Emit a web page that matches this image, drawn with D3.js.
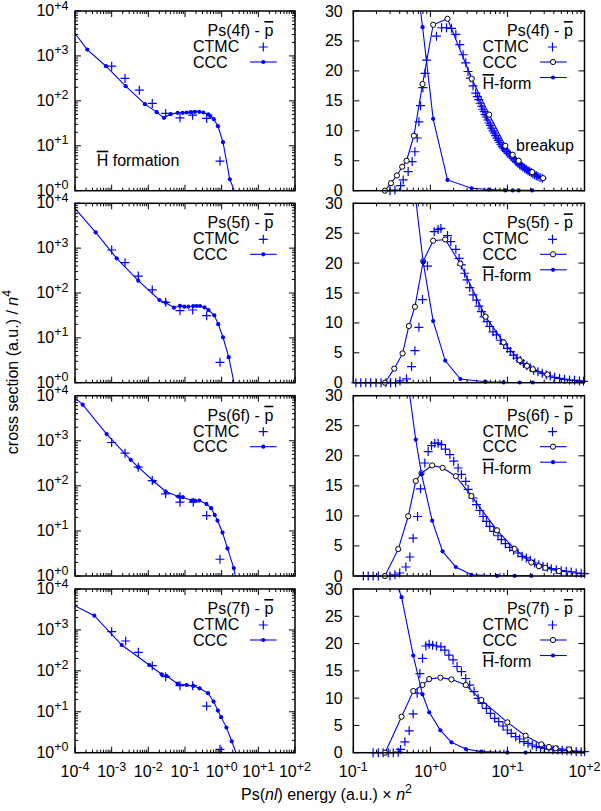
<!DOCTYPE html>
<html><head><meta charset="utf-8">
<script src="https://cdn.jsdelivr.net/npm/d3@7"></script>
<style>
body{margin:0;background:#fff}
svg{display:block}
text{font-family:"Liberation Sans",Arial,Helvetica,sans-serif;fill:#000}
</style>
</head><body>
<svg id="c" width="601" height="811"></svg>
<script>
// ---------------- DATA ----------------
const states = ["4f", "5f", "6f", "7f"];

// CCC H-bar formation (left panels, also "H-form" in right panels)
const hbar4fX = [5e-5, 2.16e-4, 7.0e-4, 2.41e-3, 8.1e-3, 0.0169, 0.0267, 0.0407, 0.063, 0.0865, 0.111, 0.143, 0.187, 0.245, 0.316, 0.431, 0.491, 0.611, 0.792, 1.087, 1.667, 3.44, 5.8, 9.4, 11.7, 14.0, 21.0];
const hbar4fY = [6640, 1387, 590, 212, 84.5, 56, 41.9, 50.6, 54, 54, 55, 56, 57, 57, 55, 50, 46, 39, 27.3, 12.0, 1.8, 0.4, 0.2, 0.05, 0.05, 0.05, 0.05];
const hbar5fX = [5e-5, 3.66e-4, 1.37e-3, 5.32e-3, 0.02, 0.0297, 0.05, 0.073, 0.0955, 0.123, 0.168, 0.207, 0.256, 0.34, 0.436, 0.63, 0.806, 1.087, 1.557, 2.45, 5.2, 8.93, 14.4, 21.4];
const hbar5fY = [14900, 2256, 593, 188, 69.8, 60.8, 47, 52, 49.5, 49.5, 51.3, 51.3, 51.3, 48, 41.8, 31.8, 20.2, 10.3, 3.7, 0.62, 0.17, 0.05, 0.03, 0.03];
const hbar6fX = [5e-5, 1.62e-4, 7.3e-4, 3.31e-3, 5.32e-3, 0.0143, 0.0297, 0.0656, 0.0865, 0.152, 0.187, 0.245, 0.383, 0.516, 0.646, 0.767, 1.056, 1.44, 2.14, 3.41, 7.33, 12.4, 20.4];
const hbar6fY = [14800, 6310, 1409, 378, 260, 125, 74.8, 57.9, 56, 47.2, 47.2, 47.2, 39.8, 31.9, 22.7, 17.0, 9.2, 4.1, 1.5, 0.2, 0.03, 0.03, 0.03];
const hbar7fX = [5e-5, 3.37e-4, 1.88e-3, 0.0106, 0.0231, 0.0316, 0.063, 0.111, 0.168, 0.25, 0.423, 0.6, 0.79, 0.966, 1.35, 1.88, 2.88, 4.59, 9.97, 17.2];
const hbar7fY = [5250, 2228, 428, 139, 82.4, 74.8, 48.6, 45.1, 42.7, 37.4, 28.5, 17.8, 10.7, 7.4, 4.1, 1.9, 0.68, 0.2, 0.03, 0.03];

// CTMC H-bar formation (left panels)
const ctmcForm4fX = [1e-3, 2.31e-3, 5.68e-3, 0.0128, 0.0297, 0.073, 0.162, 0.39, 0.9];
const ctmcForm4fY = [590, 315, 173, 87.5, 52.5, 41.9, 48, 40.6, 4.57];
const ctmcForm5fX = [1e-3, 2.31e-3, 5.32e-3, 0.0128, 0.0297, 0.073, 0.162, 0.39, 0.9];
const ctmcForm5fY = [910, 474, 239, 117, 62, 40.3, 41.8, 31.2, 2.85];
const ctmcForm6fX = [1e-3, 2.31e-3, 5.32e-3, 0.0128, 0.0297, 0.073, 0.073, 0.168, 0.39, 0.9];
const ctmcForm6fY = [916, 532, 260, 131, 66.4, 57.5, 43.4, 43.4, 21.9, 2.35];
const ctmcForm7fX = [1e-3, 2.41e-3, 5.32e-3, 0.0128, 0.0297, 0.073, 0.162, 0.39, 0.9];
const ctmcForm7fY = [906, 537, 284, 134, 72, 43.4, 43.4, 13.8, 1.21];

// CCC breakup (right panels)
const cccBr4fX = [0.257, 0.308, 0.368, 0.431, 0.491, 0.611, 0.792, 1.087, 1.667, 3.44, 5.8, 9.4, 11.7, 14.0, 21.0, 29.0];
const cccBr4fY = [0, 1.25, 2.55, 4.0, 5.0, 9.17, 17.8, 27.7, 28.7, 18.7, 12.7, 7.5, 6.0, 5.0, 3.1, 2.1];
const cccBr5fX = [0.257, 0.34, 0.436, 0.526, 0.63, 0.806, 1.087, 1.557, 2.45, 5.2, 8.93, 14.4, 17.9, 21.4, 33.0];
const cccBr5fY = [0, 2.35, 4.9, 9.48, 12.7, 20.3, 23.75, 23.95, 19.9, 11.04, 6.75, 3.75, 2.82, 2.26, 1.37];
const cccBr6fX = [0.257, 0.383, 0.516, 0.646, 0.767, 1.056, 1.44, 2.14, 3.41, 7.33, 12.4, 20.4, 25.6, 31.0, 46.5];
const cccBr6fY = [0, 4.47, 9.94, 15.8, 17.1, 18.4, 18.0, 16.6, 13.3, 7.6, 4.5, 2.24, 1.63, 1.35, 0.83];
const cccBr7fX = [0.258, 0.423, 0.6, 0.79, 0.966, 1.35, 1.88, 2.88, 4.59, 9.97, 17.2, 27.5, 34.5, 42.2, 63.0];
const cccBr7fY = [0, 6.6, 11.3, 12.4, 13.5, 13.75, 13.44, 12.4, 9.65, 5.56, 3.12, 1.53, 1.05, 0.8, 0.6];

// CTMC breakup (right panels)
const ctmcBr4fX = [0.299, 0.347, 0.411, 0.444, 0.515, 0.58, 0.63, 0.675, 0.71, 0.746, 0.8, 0.855, 0.892, 1.2, 1.4, 1.62, 1.88, 2.14, 2.41, 2.66, 2.88, 3.08, 3.31, 3.58, 3.88, 4.08, 4.25, 4.42, 4.6, 4.79, 4.98, 5.15, 5.33, 5.55, 5.77, 6.0, 6.25, 6.5, 6.78, 7.05, 7.33, 7.63, 7.94, 8.26, 8.6, 8.94, 9.3, 9.74, 10.2, 10.7, 11.2, 11.8, 12.4, 13.0, 13.7, 14.4, 15.1, 15.9, 16.7, 17.6, 18.5, 19.4, 20.4, 21.4, 22.5, 23.7, 24.9, 26.5, 28.3];
const ctmcBr4fY = [0, 0.1, 0.84, 1.8, 3.2, 4.86, 6.5, 8.8, 11.5, 14.2, 17.2, 19.6, 21.8, 25.8, 27.2, 27.2, 27.1, 26.1, 24.4, 22.7, 21.35, 19.9, 18.8, 17.5, 16.3, 15.7, 15.2, 14.6, 14.1, 13.6, 13.2, 12.7, 12.3, 11.8, 11.3, 10.9, 10.45, 10.0, 9.6, 9.2, 8.78, 8.4, 8.05, 7.7, 7.37, 7.1, 6.82, 6.55, 6.27, 6.0, 5.7, 5.4, 5.15, 4.85, 4.59, 4.35, 4.14, 3.95, 3.75, 3.55, 3.35, 3.2, 3.02, 2.85, 2.68, 2.5, 2.35, 2.2, 2.08];
const ctmcBr5fX = [0.108, 0.125, 0.145, 0.168, 0.197, 0.229, 0.265, 0.305, 0.354, 0.403, 0.49, 0.57, 0.63, 0.71, 0.79, 0.918, 1.12, 1.26, 1.37, 1.67, 1.84, 2.14, 2.36, 2.53, 2.79, 3.0, 3.24, 3.58, 3.96, 4.28, 4.59, 4.97, 5.44, 5.89, 6.5, 7.19, 8.09, 8.95, 9.97, 10.9, 12.0, 13.3, 14.7, 16.2, 17.9, 19.8, 21.9, 24.9, 28.3, 31.9, 35.9, 40.9, 47.5, 55.1, 64, 74.3, 86, 97];
const ctmcBr5fY = [0, 0, 0, 0, 0, 0, 0, 0, 0, 0.3, 0.65, 2.7, 5.35, 9.26, 13.9, 19.5, 25.25, 25.6, 25.8, 24.6, 23.6, 22.3, 20.8, 19.7, 18.3, 17.2, 15.9, 14.7, 13.8, 12.8, 11.9, 11.0, 10.2, 9.4, 8.5, 8.0, 7.1, 6.5, 5.75, 5.2, 4.6, 4.1, 3.7, 3.2, 2.85, 2.5, 2.1, 1.85, 1.57, 1.3, 1.12, 0.9, 0.73, 0.56, 0.45, 0.4, 0.28, 0.23];
const ctmcBr6fX = [0.135, 0.156, 0.181, 0.211, 0.299, 0.347, 0.40, 0.481, 0.542, 0.598, 0.682, 0.745, 0.847, 0.937, 1.035, 1.14, 1.26, 1.39, 1.57, 1.79, 2.01, 2.29, 2.53, 2.88, 3.09, 3.58, 3.96, 4.38, 4.83, 5.34, 5.89, 6.64, 7.55, 8.34, 9.4, 10.7, 12.0, 13.7, 15.5, 17.6, 19.8, 22.6, 25.6, 28.9, 32.9, 37.1, 43, 49.9, 57.9, 67.3, 78, 90.6, 100];
const ctmcBr6fY = [0, 0, 0, 0, 0, 0.2, 0.5, 1.5, 3.16, 6.3, 9.9, 14.5, 18.8, 20.7, 21.7, 22.1, 22.1, 21.85, 21.1, 20.2, 19.1, 17.97, 16.9, 15.75, 14.4, 12.98, 11.87, 10.9, 9.9, 9.1, 8.27, 7.43, 6.7, 6.05, 5.38, 4.77, 4.27, 3.83, 3.27, 3.0, 2.6, 2.16, 1.89, 1.61, 1.44, 1.22, 1.05, 0.89, 0.78, 0.67, 0.5, 0.44, 0.39];
const ctmcBr7fX = [0.181, 0.211, 0.244, 0.284, 0.33, 0.383, 0.41, 0.467, 0.531, 0.598, 0.674, 0.731, 0.791, 0.873, 0.966, 1.07, 1.2, 1.37, 1.54, 1.74, 1.97, 2.22, 2.53, 2.88, 3.24, 3.69, 4.16, 4.69, 5.34, 6.01, 6.84, 7.7, 8.77, 9.98, 11.2, 12.8, 14.4, 16.4, 18.5, 21, 23.7, 26.9, 30.3, 34.5, 38.9, 45.2, 51.4, 59.1, 67.3, 78, 90.6, 100];
const ctmcBr7fY = [0, 0, 0, 0, 0, 0.1, 0.6, 2.0, 4.0, 7.1, 10.9, 14.5, 17.3, 19.55, 19.86, 19.7, 19.55, 19.4, 18.8, 17.9, 17.0, 15.8, 14.85, 13.6, 12.4, 11.2, 9.96, 9.04, 8.13, 7.21, 6.3, 5.68, 4.89, 4.16, 3.55, 2.93, 2.51, 2.02, 1.71, 1.41, 1.1, 0.92, 0.8, 0.67, 0.55, 0.49, 0.43, 0.37, 0.3, 0.24, 0.18, 0.18];

const leftYTickExps = [0, 1, 2, 3, 4];
const leftXTickExps = [-4, -3, -2, -1, 0, 1, 2];
const rightXTickExps = [-1, 0, 1, 2];
const rightYTicks = [0, 5, 10, 15, 20, 25, 30];

// ---------------- DRAWING ----------------
const BLUE = "#0000ff";
const FS = 16, SUPFS = 12.5;
const svg = d3.select("#c");
const rows = [{t: 11, b: 190.7}, {t: 203.3, b: 382.7}, {t: 395.7, b: 576}, {t: 589, b: 752.7}];
const LX = [75, 295], RX = [353.3, 584.5];

const zip = (xs, ys) => xs.map((x, i) => ({x, y: ys[i]}));
const hbarX = [hbar4fX, hbar5fX, hbar6fX, hbar7fX], hbarY = [hbar4fY, hbar5fY, hbar6fY, hbar7fY];
const ctmcFX = [ctmcForm4fX, ctmcForm5fX, ctmcForm6fX, ctmcForm7fX], ctmcFY = [ctmcForm4fY, ctmcForm5fY, ctmcForm6fY, ctmcForm7fY];
const cccBX = [cccBr4fX, cccBr5fX, cccBr6fX, cccBr7fX], cccBY = [cccBr4fY, cccBr5fY, cccBr6fY, cccBr7fY];
const ctmcBX = [ctmcBr4fX, ctmcBr5fX, ctmcBr6fX, ctmcBr7fX], ctmcBY = [ctmcBr4fY, ctmcBr5fY, ctmcBr6fY, ctmcBr7fY];

const expStr = k => (k < 0 ? "-" : "+") + Math.abs(k);
function powLabel(sel, k) {
  sel.append("tspan").text("10");
  sel.append("tspan").attr("dy", -6.5).attr("font-size", SUPFS).text(expStr(k));
}
function plusPath(s) { return `M${-s},0H${s}M0,${-s}V${s}`; }

function logTicks(dom) {
  const lo = Math.floor(Math.log10(dom[0])), hi = Math.ceil(Math.log10(dom[1]));
  const maj = [], min = [];
  for (let d = lo; d <= hi; d++) {
    const v = Math.pow(10, d);
    if (v >= dom[0] * 0.999 && v <= dom[1] * 1.001) maj.push(v);
    for (let m = 2; m <= 9; m++) { const w = m * v; if (w > dom[0] && w < dom[1]) min.push(w); }
  }
  return {maj, min};
}

function frame(g, x, y, xr, yr, xLog, yLog, yLin) {
  const tk = g.append("g").attr("stroke", "#000").attr("stroke-width", 1);
  const xt = logTicks(x.domain());
  xt.maj.forEach(v => { const p = x(v); tk.append("line").attr("x1", p).attr("x2", p).attr("y1", yr[0]).attr("y2", yr[0] - 6); tk.append("line").attr("x1", p).attr("x2", p).attr("y1", yr[1]).attr("y2", yr[1] + 6); });
  xt.min.forEach(v => { const p = x(v); tk.append("line").attr("x1", p).attr("x2", p).attr("y1", yr[0]).attr("y2", yr[0] - 3); tk.append("line").attr("x1", p).attr("x2", p).attr("y1", yr[1]).attr("y2", yr[1] + 3); });
  if (yLog) {
    const yt = logTicks(y.domain());
    yt.maj.forEach(v => { const p = y(v); tk.append("line").attr("y1", p).attr("y2", p).attr("x1", xr[0]).attr("x2", xr[0] + 6); tk.append("line").attr("y1", p).attr("y2", p).attr("x1", xr[1]).attr("x2", xr[1] - 6); });
    yt.min.forEach(v => { const p = y(v); tk.append("line").attr("y1", p).attr("y2", p).attr("x1", xr[0]).attr("x2", xr[0] + 3); tk.append("line").attr("y1", p).attr("y2", p).attr("x1", xr[1]).attr("x2", xr[1] - 3); });
  } else {
    yLin.forEach(v => { const p = y(v); tk.append("line").attr("y1", p).attr("y2", p).attr("x1", xr[0]).attr("x2", xr[0] + 6); tk.append("line").attr("y1", p).attr("y2", p).attr("x1", xr[1]).attr("x2", xr[1] - 6); });
  }
  g.append("rect").attr("x", xr[0]).attr("y", yr[1]).attr("width", xr[1] - xr[0]).attr("height", yr[0] - yr[1])
    .attr("fill", "none").attr("stroke", "#000").attr("stroke-width", 1.5);
}

function clipFor(id, xr, yr) {
  svg.append("clipPath").attr("id", id).append("rect")
    .attr("x", xr[0]).attr("y", yr[1]).attr("width", xr[1] - xr[0]).attr("height", yr[0] - yr[1]);
  return `url(#${id})`;
}

function titleText(g, x, y, st) {
  const t = g.append("text").attr("x", x).attr("y", y).attr("text-anchor", "end").attr("font-size", FS);
  t.append("tspan").text(`Ps(${st}) - `);
  t.append("tspan").style("text-decoration", "overline").text("p");
}

rows.forEach((r, i) => {
  const yr = [r.b, r.t];
  // ---------- LEFT PANEL ----------
  {
    const g = svg.append("g");
    const x = d3.scaleLog().domain([1e-4, 1e2]).range(LX);
    const y = d3.scaleLog().domain([1, 1e4]).range(yr);
    const clip = clipFor("cl" + i, LX, yr);
    const hb = zip(hbarX[i], hbarY[i]);
    const ct = zip(ctmcFX[i], ctmcFY[i]);
    const inDom = d => d.x >= 1e-4 && d.x <= 1e2 && d.y >= 1 && d.y <= 1e4;
    g.append("path").datum(hb).attr("clip-path", clip)
      .attr("d", d3.line().x(d => x(d.x)).y(d => y(Math.max(d.y, 1e-3))))
      .attr("fill", "none").attr("stroke", BLUE).attr("stroke-width", 1.1);
    g.selectAll(".hd").data(hb.filter(inDom)).join("circle").attr("class", "hd")
      .attr("cx", d => x(d.x)).attr("cy", d => y(d.y)).attr("r", 2.1).attr("fill", BLUE);
    g.selectAll(".ct").data(ct.filter(inDom)).join("path").attr("class", "ct")
      .attr("transform", d => `translate(${x(d.x)},${y(d.y)})`).attr("d", plusPath(4.5))
      .attr("stroke", BLUE).attr("stroke-width", 1.2).attr("fill", "none");
    frame(g, x, y, LX, yr, true, true);
    leftYTickExps.forEach(k => {
      const t = g.append("text").attr("x", 68.5).attr("y", y(Math.pow(10, k)) + 5).attr("text-anchor", "end").attr("font-size", FS);
      powLabel(t, k);
    });
    if (i === 3) {
      leftXTickExps.forEach(k => {
        const t = g.append("text").attr("x", x(Math.pow(10, k))).attr("y", 777).attr("text-anchor", "middle").attr("font-size", FS);
        powLabel(t, k);
      });
    }
    const xr = LX[1], t0 = r.t;
    titleText(g, xr - 21.7, t0 + 25, states[i]);
    g.append("text").attr("x", xr - 102).attr("y", t0 + 41).attr("font-size", FS).text("CTMC");
    g.append("path").attr("transform", `translate(${xr - 31.7},${t0 + 36})`).attr("d", plusPath(4.5))
      .attr("stroke", BLUE).attr("stroke-width", 1.2);
    g.append("text").attr("x", xr - 102).attr("y", t0 + 56.5).attr("font-size", FS).text("CCC");
    g.append("line").attr("x1", xr - 45).attr("x2", xr - 18.3).attr("y1", t0 + 51).attr("y2", t0 + 51).attr("stroke", BLUE).attr("stroke-width", 1.1);
    g.append("circle").attr("cx", xr - 31.7).attr("cy", t0 + 51).attr("r", 2.1).attr("fill", BLUE);
    if (i === 0) {
      const t = g.append("text").attr("x", 96.7).attr("y", 165.7).attr("font-size", FS);
      t.append("tspan").style("text-decoration", "overline").text("H");
      t.append("tspan").text(" formation");
    }
  }
  // ---------- RIGHT PANEL ----------
  {
    const g = svg.append("g");
    const x = d3.scaleLog().domain([0.1, 100]).range(RX);
    const y = d3.scaleLinear().domain([0, 30]).range(yr);
    const clip = clipFor("cr" + i, RX, yr);
    const inDom = d => d.x >= 0.1 && d.x <= 100 && d.y >= 0 && d.y <= 30;
    const ct = zip(ctmcBX[i], ctmcBY[i]);
    const cc = zip(cccBX[i], cccBY[i]);
    const hb = zip(hbarX[i], hbarY[i]).filter(d => d.x >= 0.2);
    const line = d3.line().x(d => x(d.x)).y(d => y(d.y));
    g.selectAll(".ct").data(ct.filter(inDom)).join("path").attr("class", "ct")
      .attr("transform", d => `translate(${x(d.x)},${y(d.y)})`).attr("d", plusPath(4.5))
      .attr("stroke", BLUE).attr("stroke-width", 1.2).attr("fill", "none");
    g.append("path").datum(cc).attr("clip-path", clip).attr("d", line)
      .attr("fill", "none").attr("stroke", BLUE).attr("stroke-width", 1.1);
    g.selectAll(".cc").data(cc.filter(inDom)).join("circle").attr("class", "cc")
      .attr("cx", d => x(d.x)).attr("cy", d => y(d.y)).attr("r", 2.6)
      .attr("fill", "#fff").attr("stroke", "#000").attr("stroke-width", 1);
    g.append("path").datum(hb).attr("clip-path", clip).attr("d", line)
      .attr("fill", "none").attr("stroke", BLUE).attr("stroke-width", 1.1);
    g.selectAll(".hd").data(hb.filter(inDom)).join("circle").attr("class", "hd")
      .attr("cx", d => x(d.x)).attr("cy", d => y(d.y)).attr("r", 2.1).attr("fill", BLUE);
    frame(g, x, y, RX, yr, true, false, rightYTicks);
    rightYTicks.forEach(v => {
      g.append("text").attr("x", 342.7).attr("y", y(v) + 5.5).attr("text-anchor", "end").attr("font-size", FS).text(v);
    });
    if (i === 3) {
      rightXTickExps.forEach(k => {
        const t = g.append("text").attr("x", x(Math.pow(10, k))).attr("y", 777).attr("text-anchor", "middle").attr("font-size", FS);
        powLabel(t, k);
      });
    }
    const xr = RX[1], t0 = r.t;
    titleText(g, xr - 11.7, t0 + 25, states[i]);
    g.append("text").attr("x", xr - 102).attr("y", t0 + 41).attr("font-size", FS).text("CTMC");
    g.append("path").attr("transform", `translate(${xr - 32},${t0 + 36})`).attr("d", plusPath(4.5))
      .attr("stroke", BLUE).attr("stroke-width", 1.2);
    g.append("text").attr("x", xr - 102).attr("y", t0 + 56.5).attr("font-size", FS).text("CCC");
    g.append("line").attr("x1", xr - 44.5).attr("x2", xr - 17.8).attr("y1", t0 + 51).attr("y2", t0 + 51).attr("stroke", BLUE).attr("stroke-width", 1.1);
    g.append("circle").attr("cx", xr - 31.5).attr("cy", t0 + 51).attr("r", 2.6).attr("fill", "#fff").attr("stroke", "#000");
    const ht = g.append("text").attr("x", xr - 102).attr("y", t0 + 78).attr("font-size", FS);
    ht.append("tspan").style("text-decoration", "overline").text("H");
    ht.append("tspan").text("-form");
    g.append("line").attr("x1", xr - 44.5).attr("x2", xr - 17.8).attr("y1", t0 + 66.5).attr("y2", t0 + 66.5).attr("stroke", BLUE).attr("stroke-width", 1.1);
    g.append("circle").attr("cx", xr - 31.5).attr("cy", t0 + 66.5).attr("r", 2.1).attr("fill", BLUE);
    if (i === 0) {
      g.append("text").attr("x", 516).attr("y", 151).attr("font-size", FS).text("breakup");
    }
  }
});

// axis titles
const xl = svg.append("text").attr("x", 326.5).attr("y", 799.5).attr("text-anchor", "middle").attr("font-size", FS);
xl.append("tspan").text("Ps(");
xl.append("tspan").attr("font-style", "italic").text("nl");
xl.append("tspan").text(") energy (a.u.) \u00d7 ");
xl.append("tspan").attr("font-style", "italic").text("n");
xl.append("tspan").attr("dy", -6.5).attr("font-size", SUPFS).text("2");

const yl = svg.append("text").attr("transform", "translate(17.5,372) rotate(-90)").attr("text-anchor", "middle").attr("font-size", FS);
yl.append("tspan").text("cross section (a.u.) / ");
yl.append("tspan").attr("font-style", "italic").text("n");
yl.append("tspan").attr("dy", -6.5).attr("font-size", SUPFS).text("4");
</script>
</body></html>
